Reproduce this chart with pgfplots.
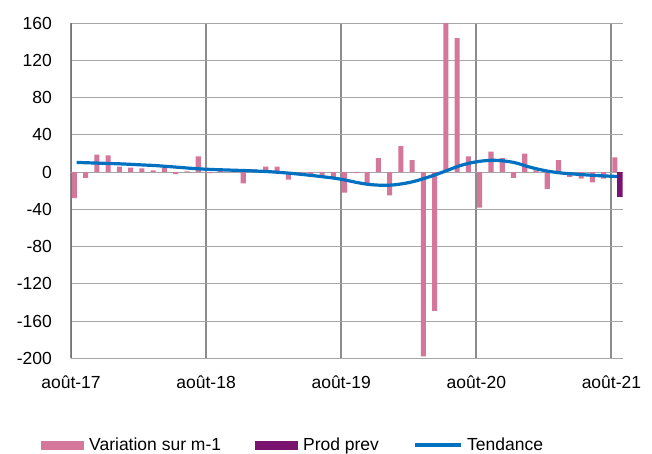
\documentclass[border=0pt]{standalone}
\usepackage{fontspec}
\setmainfont{Liberation Sans}
\usepackage{pgfplots}
\pgfplotsset{compat=1.18}
\usepackage{pgfplotstable}
\definecolor{varpink}{RGB}{213,118,155}
\definecolor{prodpurple}{RGB}{122,18,112}
\definecolor{tendblue}{RGB}{0,112,192}
\definecolor{gridgray}{RGB}{166,166,166}
\definecolor{yeargray}{RGB}{140,140,140}
\newcommand{\fs}{\fontsize{17.5bp}{21bp}\selectfont}

\pgfplotstableread{
m v
0 -28
1 -6
2 19
3 18
4 6
5 5
6 4
7 2
8 5
9 -2
10 1
11 17
12 -1
13 2
14 1
15 -12
16 3
17 6
18 6
19 -8
20 -1
21 -2
22 -4
23 -5
24 -22
25 -1
26 -12
27 15
28 -25
29 28
30 13
31 -198
32 -149
33 161
34 144
35 17
36 -38
37 22
38 15
39 -6
40 20
41 2
42 -18
43 13
44 -5
45 -7
46 -11
47 -7
48 16
}\variation

\pgfplotstableread{
m v
48 -27
}\prodprev

\pgfplotstableread{
m t
0 10.5
1 10.1
2 9.7
3 9.3
4 8.9
5 8.3
6 7.7
7 7.1
8 6.2
9 5.3
10 4.3
11 3.5
12 2.9
13 2.5
14 2.1
15 1.7
16 1.2
17 0.6
18 -0.2
19 -1.2
20 -2.4
21 -3.7
22 -5.1
23 -6.6
24 -8.8
25 -11.3
26 -13.2
27 -14.0
28 -13.8
29 -12.3
30 -9.8
31 -6.2
32 -2.2
33 2.3
34 6.8
35 10.0
36 12.0
37 12.8
38 12.0
39 10.0
40 6.3
41 3.2
42 0.8
43 -0.8
44 -1.8
45 -2.7
46 -3.5
47 -4.1
48 -4.6
}\tendance

\begin{document}
\begin{tikzpicture}
\useasboundingbox (-71bp,-95.7bp) rectangle (581bp,358.3bp);
\begin{axis}[
  at={(0,0)}, anchor=south west,
  scale only axis,
  width=551.7bp, height=335bp,
  xmin=0, xmax=49,
  ymin=-200, ymax=160,
  xtick={0,12,24,36,48},
  xticklabels={août-17,août-18,août-19,août-20,août-21},
  ytick={-200,-160,-120,-80,-40,0,40,80,120,160},
  yticklabels={-200,-160,-120,-80,-40,0,40,80,120,160},
  tick style={draw=none},
  major tick length=0pt,
  axis x line*=bottom,
  axis y line*=left,
  x axis line style={draw=none},
  y axis line style={draw=black!55, line width=0.9bp},
  xmajorgrids, ymajorgrids,
  x grid style={draw=yeargray, line width=2bp},
  y grid style={draw=gridgray, line width=1bp},
  extra y ticks={0},
  extra y tick labels={},
  extra y tick style={grid style={draw=black!75, line width=1bp}},
  xticklabel style={font=\fs, anchor=north, inner sep=0pt, yshift=-17bp},
  yticklabel style={font=\fs, anchor=east, inner sep=0pt, xshift=-19bp},
  clip=true,
  legend columns=3,
  legend style={at={(axis description cs:-0.0544,-0.2588)}, anchor=west,
    draw=none, fill=none, inner sep=0pt, font=\fs,
    nodes={inner sep=0pt},
    /tikz/every odd column/.append style={column sep=5bp},
    /tikz/every even column/.append style={column sep=34bp}},
]
\addplot[ybar, bar width=0.45, fill=varpink, draw=none,
  legend image code/.code={\fill[varpink] (0bp,-4.5bp) rectangle (43bp,4.5bp);}]
  table[x expr=\thisrow{m}+0.3, y=v] {\variation};
\addlegendentry{Variation sur m-1}
\addplot[ybar, bar width=0.48, fill=prodpurple, draw=none,
  legend image code/.code={\fill[prodpurple] (0bp,-4.5bp) rectangle (43bp,4.5bp);}]
  table[x expr=\thisrow{m}+0.77, y=v] {\prodprev};
\addlegendentry{Prod prev}
\addplot[tendblue, line width=3.2bp, smooth, no markers,
  legend image code/.code={\draw[tendblue, line width=3.2bp] (0bp,0bp) -- (46bp,0bp);}]
  table[x expr=\thisrow{m}+0.5, y=t] {\tendance};
\addlegendentry{Tendance}
\end{axis}
\end{tikzpicture}
\end{document}
